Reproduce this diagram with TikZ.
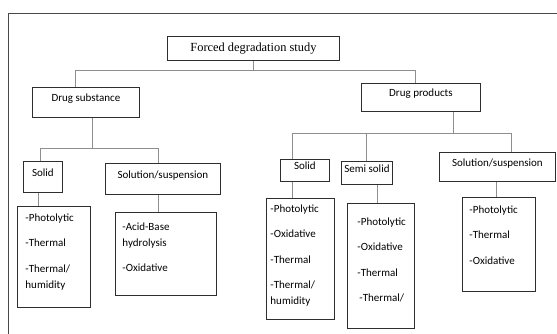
\documentclass[tikz,border=0pt]{standalone}
\usepackage{fontspec}
\setmainfont{Liberation Serif}
\setsansfont{Carlito}
\definecolor{boxline}{HTML}{2E2E2E}
\definecolor{linkgray}{HTML}{8E8E8E}
\definecolor{framegray}{HTML}{4A4A4A}

\begin{document}
\begin{tikzpicture}[x=1pt, y=-1pt,
    box/.style={draw=boxline, line width=0.9pt, inner sep=0pt, anchor=north west,
        text height=8pt, text depth=9pt, font=\sffamily\fontsize{11}{13}\selectfont},
    listbox/.style={draw=boxline, line width=0.9pt, inner ysep=0pt, anchor=north west,
        align=left, font=\sffamily\fontsize{11}{16}\selectfont},
    link/.style={draw=linkgray, line width=0.8pt}]
                        \useasboundingbox (0,0) rectangle (557,334);
                        \draw[framegray, line width=0.9pt] (8,334) -- (8,13) -- (557,13);

                        \node[box, minimum width=172pt, minimum height=24pt, text height=9pt, text depth=3pt,
                            font=\rmfamily\fontsize{12.4}{14}\selectfont] (fds) at (167,36) {Forced degradation study};
                        \node[box, minimum width=107pt, minimum height=30pt] (ds) at (32,87) {Drug substance};
                        \node[box, minimum width=119pt, minimum height=28pt] (dp) at (361,83) {Drug products};

                        \node[box, minimum width=39pt, minimum height=31pt] (s1) at (23,161) {Solid};
                        \node[box, minimum width=115pt, minimum height=31pt] (s2) at (105,163) {Solution/suspension};
                        \node[box, minimum width=49pt, minimum height=22pt] (p1) at (280,159) {Solid};
                        \node[box, minimum width=51pt, minimum height=23pt] (p2) at (341,161) {Semi solid};
                        \node[box, minimum width=116pt, minimum height=29pt] (p3) at (439,152) {Solution/suspension};

                        \node[listbox, inner xsep=8pt] (s1l) at (17,206)
                            {\parbox[t][101pt][t]{57pt}{\vspace*{7pt}-Photolytic\\[9.5pt]-Thermal\\[9.5pt]-Thermal/\\humidity}};
                        \node[listbox, inner xsep=7pt] (s2l) at (115,212)
                            {\parbox[t][83pt][t]{87pt}{\vspace*{10pt}-Acid-Base\\hydrolysis\\[9.5pt]-Oxidative}};
                        \node[listbox, inner xsep=4pt] (p1l) at (266,198)
                            {\parbox[t][121pt][t]{60pt}{\vspace*{6pt}-Photolytic\\[9.5pt]-Oxidative\\[9.5pt]-Thermal\\[9.5pt]-Thermal/\\humidity}};
                        \node[listbox, inner xsep=3pt] (p2l) at (347,203)
                            {\parbox[t][125pt][t]{61pt}{\leftskip=7pt\vspace*{14pt}-Photolytic\\[9.5pt]-Oxidative\\[9.5pt]-Thermal\\[9.5pt]\hspace*{2pt}-Thermal/}};
                        \node[listbox, inner xsep=7pt] (p3l) at (462,197)
                            {\parbox[t][94pt][t]{59pt}{\vspace*{8pt}-Photolytic\\[9.5pt]-Thermal\\[9.5pt]-Oxidative}};

                        \draw[link] (fds.south) -- ++(0,10) coordinate (fdsbar) -| ([xshift=43pt]ds.north west);
                        \draw[link] (fdsbar) -| ([xshift=54pt]dp.north west);
                        \draw[link] ([xshift=60pt]ds.south west) -- ++(0,31) coordinate (dsbar) -| ([xshift=17pt]s1.north west);
                        \draw[link] (dsbar) -| ([xshift=53pt]s2.north west);
                        \draw[link] ([xshift=92pt]dp.south west) -- ++(0,22) coordinate (dpbar) -| ([xshift=12pt]p1.north west);
                        \draw[link] (dpbar) -| ([xshift=25pt]p2.north west);
                        \draw[link] (dpbar) -| ([xshift=72pt]p3.north west);

                        \draw[link] ([xshift=15pt]s1.south west) -- ([xshift=21pt]s1l.north west);
                        \draw[link] ([xshift=53pt]s2.south west) -- ([xshift=43pt]s2l.north west);
                        \draw[link] ([xshift=12pt]p1.south west) -- ([xshift=26pt]p1l.north west);
                        \draw[link] ([xshift=36pt]p2.south west) -- ([xshift=30pt]p2l.north west);
                        \draw[link] ([xshift=57pt]p3.south west) -- ([xshift=34pt]p3l.north west);
                    \end{tikzpicture}
\end{document}
